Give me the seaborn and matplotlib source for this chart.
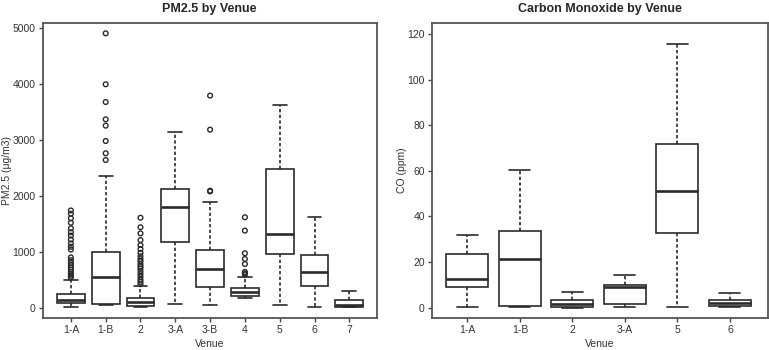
import pandas as pd
import matplotlib
matplotlib.use("Agg")
import matplotlib.pyplot as plt
import seaborn as sns

# -------------------------------
# Daten
# -------------------------------
pm_venues = ["1-A", "1-B", "2", "3-A", "3-B", "4", "5", "6", "7"]
pm_low = [7, 50, 15, 72, 54, 168, 48, 7, 5]
pm_q1 = [79, 65, 30, 1170, 376, 215, 955, 390, 7]
pm_med = [143, 555, 105, 1796, 686, 285, 1325, 642, 50]
pm_q3 = [240, 990, 179, 2130, 1026, 358, 2476, 946, 135]
pm_high = [496, 2363, 388, 3138, 1891, 555, 3634, 1626, 302]

pm_out_1a = [1740, 1680, 1600, 1520, 1420, 1350, 1290, 1220, 1150, 1090, 1040,
             900, 850, 800, 760, 720, 680, 640, 600, 570, 540]
pm_out_1b = [4910, 3998, 3681, 3371, 3258, 2983, 2763, 2643]
pm_out_2 = [1610, 1440, 1330, 1210, 1120, 1050, 980, 920, 870, 830, 780, 740,
            700, 650, 600, 550, 500, 460, 420]
pm_out_3b = [3795, 3186, 2094, 2080]
pm_out_4 = [1618, 1379, 973, 871, 782, 640, 615, 595]

co_venues = ["1-A", "1-B", "2", "3-A", "5", "6"]
co_low = [0.1, 0.1, 0.0, 0.3, 0.1, 0.2]
co_q1 = [9.1, 0.6, 0.3, 1.7, 32.9, 0.6]
co_med = [12.6, 21.5, 1.6, 9.0, 51.1, 2.1]
co_q3 = [23.4, 33.5, 3.2, 9.8, 71.9, 3.5]
co_high = [32.0, 60.3, 6.9, 14.5, 115.5, 6.6]


def five_num(venues, lo, q1, med, q3, hi):
    rows = []
    for i, v in enumerate(venues):
        for val in (lo[i], q1[i], med[i], q3[i], hi[i]):
            rows.append({"Venue": v, "Wert": val})
    return pd.DataFrame(rows)


df_pm = five_num(pm_venues, pm_low, pm_q1, pm_med, pm_q3, pm_high)
df_co = five_num(co_venues, co_low, co_q1, co_med, co_q3, co_high)

out_rows = []
for v, vals in [("1-A", pm_out_1a), ("1-B", pm_out_1b), ("2", pm_out_2),
                ("3-B", pm_out_3b), ("4", pm_out_4)]:
    for val in vals:
        out_rows.append({"Venue": v, "Wert": val})
df_pm_out = pd.DataFrame(out_rows)

# -------------------------------
# Grafik
# -------------------------------
sns.set_style("white")
plt.rcParams["font.family"] = ["Liberation Sans", "DejaVu Sans"]

line_col = "#2b2b2b"
box_kw = dict(x="Venue", y="Wert", whis=(0, 100), width=0.8, color="white",
              linecolor=line_col, linewidth=1.2, showfliers=False,
              whiskerprops={"linestyle": (0, (2, 1.4))},
              medianprops={"linewidth": 1.9})

fig = plt.figure(figsize=(7.69, 3.5), dpi=100)
ax1 = fig.add_axes([0.0555, 0.0906, 0.4345, 0.8445])
ax2 = fig.add_axes([0.5614, 0.0906, 0.4369, 0.8445])

sns.boxplot(data=df_pm, order=pm_venues, ax=ax1, **box_kw)
sns.stripplot(data=df_pm_out, x="Venue", y="Wert", order=pm_venues, ax=ax1,
              jitter=False, size=3.4, color=line_col, linewidth=1.0,
              edgecolor=line_col)
for coll in ax1.collections:
    coll.set_facecolor("none")
    coll.set_edgecolor(line_col)

sns.boxplot(data=df_co, order=co_venues, ax=ax2, **box_kw)

ax1.set_xlim(-0.81, 8.79)
ax1.set_ylim(-190, 5100)
ax1.set_yticks([0, 1000, 2000, 3000, 4000, 5000])
ax2.set_xlim(-0.68, 5.72)
ax2.set_ylim(-4.7, 125)
ax2.set_yticks([0, 20, 40, 60, 80, 100, 120])

for ax, title, ylab in [(ax1, "PM2.5 by Venue", "PM2.5 (μg/m3)"),
                        (ax2, "Carbon Monoxide by Venue", "CO (ppm)")]:
    ax.set_title(title, fontsize=9, fontweight="bold", pad=7.5)
    ax.set_xlabel("Venue", fontsize=7.5, color="#333333", labelpad=3)
    ax.set_ylabel(ylab, fontsize=7.5, color="#333333", labelpad=0.5)
    ax.tick_params(axis="both", which="both", direction="out", length=3,
                   width=1, color="#444444", labelsize=7.5,
                   labelcolor="#333333", pad=2, bottom=True, left=True)
    for sp in ax.spines.values():
        sp.set_visible(True)
        sp.set_color("#555555")
        sp.set_linewidth(1.3)

fig.savefig("out.png", dpi=100)
